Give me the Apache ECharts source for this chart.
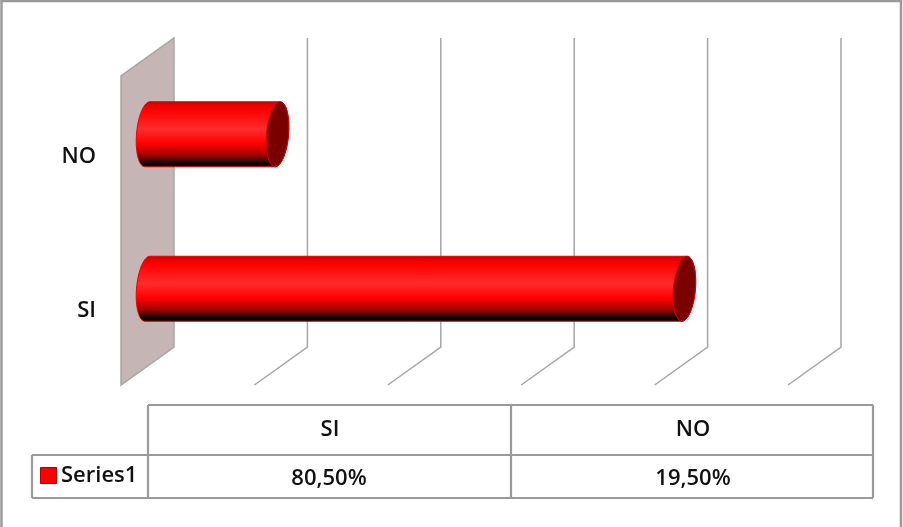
<!DOCTYPE html>
<html><head><meta charset="utf-8">
<style>html,body{margin:0;padding:0;background:#fff}#c{width:903px;height:527px}</style>
<script src="https://cdn.jsdelivr.net/npm/echarts@6/dist/echarts.min.js"></script>
</head><body><div id="c"></div>
<script>
const categories = ['SI', 'NO'];
const seriesName = 'Series1';
const values = [80.5, 19.5];
const tableValues = ['80,50%', '19,50%'];
const xTicks = [0, 20, 40, 60, 80, 100];

const depthX = 53, depthY = -38;
const GRAY = '#a6a6a6', LINE = '#9a9a9a';
const FONT = '"Open Sans", "Noto Sans", sans-serif';
const chart = echarts.init(document.getElementById('c'));

function ellipsePts(cx, cy, from, to) {
  const pts = [], rx = 11, ry = 32.5, sk = 2.5, n = 32;
  for (let i = 0; i <= n; i++) {
    const t = from + (to - from) * i / n;
    pts.push([cx + rx * Math.cos(t) - sk * Math.sin(t), cy + ry * Math.sin(t)]);
  }
  return pts;
}

// table
const T = { x0: 32, x1: 148, x2: 511, x3: 873, y0: 405, y1: 455, y2: 498 };
const tLines = [
  [T.x1, T.y0, T.x3, T.y0], [T.x0, T.y1, T.x3, T.y1], [T.x0, T.y2, T.x3, T.y2],
  [T.x0, T.y1, T.x0, T.y2], [T.x1, T.y0, T.x1, T.y2], [T.x2, T.y0, T.x2, T.y2], [T.x3, T.y0, T.x3, T.y2]
];
const txtStyle = (s, x, y, align) => ({ type: 'text', silent: true, style: { text: s, x, y, align: align || 'center', verticalAlign: 'middle', font: '600 22px ' + FONT, fill: '#111' } });
const graphics = [
  { type: 'rect', silent: true, shape: { x: 1.5, y: 1, width: 899.5, height: 540 }, style: { fill: 'none', stroke: LINE, lineWidth: 2.5 } },
  ...tLines.map(l => ({ type: 'line', silent: true, shape: { x1: l[0], y1: l[1], x2: l[2], y2: l[3] }, style: { stroke: LINE, lineWidth: 2.2 } })),
  { type: 'rect', silent: true, shape: { x: 40.5, y: 467.5, width: 16, height: 16 }, style: { fill: '#ff0000', stroke: '#b00000', lineWidth: 1 } },
  txtStyle(seriesName, 61, 476, 'left'),
  ...categories.map((c, i) => txtStyle(c, i ? 693 : 330, 430)),
  ...tableValues.map((v, i) => txtStyle(v, i ? 693 : 329, 479))
];

chart.setOption({
  animation: false,
  backgroundColor: '#ffffff',
  grid: { left: 121, right: 115, top: 76, bottom: 142 },
  xAxis: { type: 'value', min: 0, max: 100, interval: 20, show: false },
  yAxis: {
    type: 'category', data: categories,
    axisLine: { show: false }, axisTick: { show: false },
    axisLabel: { margin: 25, fontSize: 22, fontWeight: 600, fontFamily: FONT, color: '#111', verticalAlign: 'top', lineHeight: 6 }
  },
  graphic: graphics,
  series: [
    {
      type: 'custom', coordinateSystem: 'cartesian2d', silent: true, z: 1,
      data: xTicks.map(t => [t]),
      renderItem(params, api) {
        const v = api.value(0);
        const bottom = api.coord([v, 0]);
        const yBot = params.coordSys.y + params.coordSys.height;
        const yTop = params.coordSys.y;
        const x = bottom[0];
        const children = [];
        if (v === 0) {
          children.push({
            type: 'polygon',
            shape: { points: [[x, yBot], [x, yTop], [x + depthX, yTop + depthY], [x + depthX, yBot + depthY]] },
            style: { fill: '#c5b5b5', stroke: GRAY, lineWidth: 1.5 }
          });
        } else {
          children.push({
            type: 'polyline',
            shape: { points: [[x, yBot], [x + depthX, yBot + depthY], [x + depthX, yTop + depthY]] },
            style: { fill: 'none', stroke: GRAY, lineWidth: 1.5 }
          });
        }
        return { type: 'group', children };
      }
    },
    {
      type: 'custom', name: seriesName, coordinateSystem: 'cartesian2d', silent: true, z: 2,
      data: values.map((v, i) => [v, i]),
      renderItem(params, api) {
        const start = api.coord([0, api.value(1)]);
        const end = api.coord([api.value(0), api.value(1)]);
        const ox = depthX / 2, oy = depthY / 2;
        const lx = start[0] + ox, rx = end[0] + ox, cy = start[1] + oy;
        const body = ellipsePts(lx, cy, Math.PI * 1.5, Math.PI * 0.5).concat(ellipsePts(rx, cy, Math.PI * 0.5, -Math.PI * 0.5));
        const grad = new echarts.graphic.LinearGradient(0, 0, 0, 1, [
          { offset: 0, color: '#c00000' }, { offset: 0.05, color: '#e80000' }, { offset: 0.13, color: '#ff0000' },
          { offset: 0.42, color: '#ff2c2c' }, { offset: 0.64, color: '#ff0000' }, { offset: 0.82, color: '#a00000' },
          { offset: 0.95, color: '#000000' }, { offset: 1, color: '#200000' }
        ]);
        return {
          type: 'group', children: [
            { type: 'polygon', shape: { points: body }, style: { fill: grad, stroke: '#e80000', lineWidth: 1 } },
            { type: 'polygon', shape: { points: ellipsePts(rx, cy, 0, Math.PI * 2) }, style: { fill: '#7a0000', stroke: '#d80000', lineWidth: 1 } }
          ]
        };
      }
    }
  ]
});
</script></body></html>
